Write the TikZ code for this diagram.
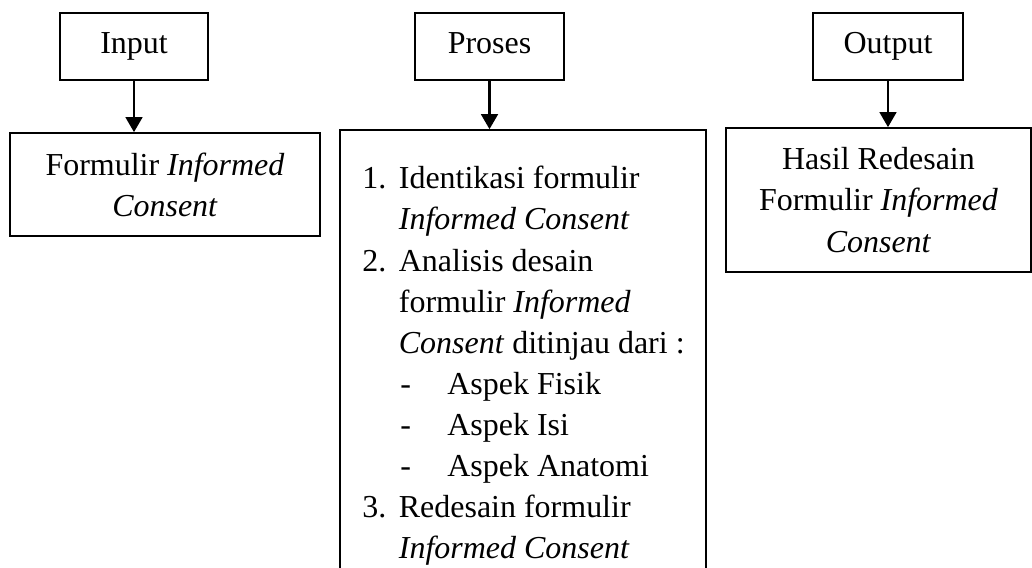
\documentclass[tikz,border=0pt]{standalone}
\usepackage{fontspec}
\setmainfont{Liberation Serif}
\usetikzlibrary{positioning,calc}
\usetikzlibrary{arrows.meta}
\tikzset{
  judul/.style={draw=black,line width=1pt,minimum height=1.34cm,inner sep=0pt,
    text height=12.5pt,text depth=4pt},
  kotak/.style={draw=black,line width=1pt,align=center,inner sep=0pt},
  isi/.style={align=left,inner sep=0pt,anchor=north west},
  panah/.style={draw=black,line width=1.3pt,-{Triangle[length=8.5pt,width=9.5pt]}},
}

\begin{document}
\begin{tikzpicture}[x=0.02cm,y=-0.02cm,font=\fontsize{18.2}{23.4}\selectfont]
\useasboundingbox (0,0) rectangle (1032,568);
% kepala kolom
\node[judul,minimum width=2.96cm] (input) at (134,46.5) {Input};
\node[judul,minimum width=2.98cm] (proses) at (489.5,46.5) {Proses};
\node[judul,minimum width=3.0cm] (output) at (888,46.5) {Output};
% isi kolom
\node[kotak,minimum width=6.2cm,minimum height=2.06cm] (formulir) at (165,184.5)
  {Formulir \textit{Informed}\\ \textit{Consent}};
\node[kotak,minimum width=7.32cm,minimum height=9cm] (langkah) at (523,355) {};
\node[isi] (daftar) at (362,166) {%
  \makebox[20.8pt][l]{1.}Identikasi formulir\\
  \hspace*{20.8pt}\textit{Informed Consent}\\
  \makebox[20.8pt][l]{2.}Analisis desain\\
  \hspace*{20.8pt}formulir \textit{Informed}\\
  \hspace*{20.8pt}\textit{Consent} ditinjau dari :\\
  \hspace*{21.6pt}\makebox[26.8pt][l]{-}Aspek Fisik\\
  \hspace*{21.6pt}\makebox[26.8pt][l]{-}Aspek Isi\\
  \hspace*{21.6pt}\makebox[26.8pt][l]{-}Aspek Anatomi\\
  \makebox[20.8pt][l]{3.}Redesain formulir\\
  \hspace*{20.8pt}\textit{Informed Consent}};
\node[kotak,minimum width=6.1cm,minimum height=2.88cm] (hasil) at (878.5,200)
  {Hasil Redesain\\ Formulir \textit{Informed}\\ \textit{Consent}};
% panah
\draw[panah] (input.south) -- (input.south |- formulir.north);
\draw[panah] (proses.south) -- (proses.south |- langkah.north);
\draw[panah] (output.south) -- (output.south |- hasil.north);
\end{tikzpicture}
\end{document}
